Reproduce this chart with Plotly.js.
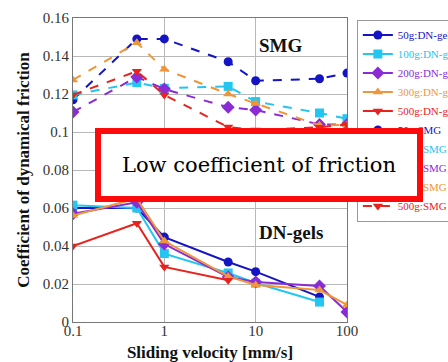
<!DOCTYPE html>
<html><head><meta charset="utf-8">
<script src="https://cdn.plot.ly/plotly-3.0.1.min.js"></script>
<style>html,body{margin:0;padding:0;background:#fff}#chart{width:448px;height:362px}</style>
</head><body><div id="chart"></div>
<script>
// Sliding velocity [mm/s]
const velocity = [0.1, 0.5, 1, 5, 10, 50, 100];

// DN-gels (solid lines)
const dn50  = [0.060, 0.060, 0.0447, 0.0316, 0.0265, 0.0132];
const dn100 = [0.0615, 0.060, 0.036, 0.0258, 0.0205, 0.0105];
const dn200 = [0.057, 0.063, 0.041, 0.0237, 0.021, 0.019, 0.0053];
const dn300 = [0.056, 0.065, 0.0426, 0.024, 0.0195, 0.0168, 0.009];
const dn500 = [0.040, 0.052, 0.029, 0.022];

// SMG (dashed lines)
const smg50  = [0.117, 0.149, 0.149, 0.137, 0.127, 0.128, 0.131];
const smg100 = [0.1195, 0.126, 0.123, 0.124, 0.116, 0.110, 0.107];
const smg200 = [0.1105, 0.129, 0.1226, 0.113, 0.1116, 0.104, 0.104];
const smg300 = [0.1274, 0.147, 0.133, 0.120, 0.115, 0.1035, 0.1037];
const smg500 = [0.1195, 0.132, 0.1195, 0.1026, 0.101, 0.1025, 0.104];

const seriesNames = ['50g:DN-gels','100g:DN-gels','200g:DN-gels','300g:DN-gels','500g:DN-gels',
                     '50g:SMG','100g:SMG','200g:SMG','300g:SMG','500g:SMG'];
const seriesValues = [dn50, dn100, dn200, dn300, dn500, smg50, smg100, smg200, smg300, smg500];
const seriesColors = ['#1414c4','#22c6f0','#8a2bd6','#f0963a','#e8231e',
                      '#1414c4','#22c6f0','#8a2bd6','#f0963a','#e8231e'];
const seriesSymbols = ['circle','square','diamond','triangle-up','triangle-down',
                       'circle','square','diamond','triangle-up','triangle-down'];
const seriesDash = ['solid','solid','solid','solid','solid','dash','dash','dash','dash','dash'];

const tickVals = [0.1, 1, 10, 100];
const tickText = ['0.1', '1', '10', '100'];

const serif = 'Liberation Serif';

const traces = seriesValues.map((vals, i) => ({
  type: 'scatter', mode: 'lines+markers',
  x: velocity.slice(0, vals.length), y: vals,
  name: '<span style="color:' + seriesColors[i] + '">' + seriesNames[i] + '</span>',
  line: {color: seriesColors[i], width: 2, dash: seriesDash[i]},
  marker: {color: seriesColors[i], symbol: seriesSymbols[i], size: seriesSymbols[i]==='diamond' ? 10 : 9}
}));

const layout = {
  width: 448, height: 362,
  margin: {l: 73, r: 101, t: 18, b: 40, autoexpand: false},
  paper_bgcolor: '#fff', plot_bgcolor: '#fff',
  font: {family: serif},
  showlegend: true,
  legend: {x: 1.036, xanchor: 'left', y: 0.995, yanchor: 'top',
           bgcolor: '#fff', bordercolor: '#999', borderwidth: 1,
           font: {family: serif, size: 11, color: '#333'}},
  xaxis: {type: 'log', range: [-1, 2], tickvals: tickVals, ticktext: tickText,
          showgrid: true, gridcolor: '#b8b8b8', gridwidth: 1,
          showline: true, linecolor: '#777', mirror: true, ticks: '', zeroline: false,
          ticklabelstandoff: -5,
          tickfont: {family: serif, size: 15, color: '#333'},
          title: {text: '<b>Sliding velocity [mm/s]</b>', font: {family: serif, size: 17, color: '#111'}, standoff: 10}},
  yaxis: {range: [0, 0.16], dtick: 0.02, showgrid: true, gridcolor: '#b8b8b8', gridwidth: 1,
          showline: true, linecolor: '#777', mirror: true, ticks: '', zeroline: false,
          tickfont: {family: serif, size: 15, color: '#333'},
          title: {text: '<b>Coefficient of dynamical friction</b>', font: {family: serif, size: 17, color: '#111'}, standoff: 8}},
  annotations: [
    {xref: 'paper', yref: 'paper', x: 0.759, y: 0.911, xanchor: 'center', yanchor: 'middle', showarrow: false,
     text: '<b>SMG</b>', font: {family: serif, size: 19, color: '#111'}},
    {xref: 'paper', yref: 'paper', x: 0.796, y: 0.293, xanchor: 'center', yanchor: 'middle', showarrow: false,
     text: '<b>DN-gels</b>', font: {family: serif, size: 19, color: '#111'}},
    {xref: 'paper', yref: 'paper', x: 0.679, y: 0.516, xanchor: 'center', yanchor: 'middle', showarrow: false,
     text: 'Low coefficient of friction', font: {family: 'DejaVu Serif', size: 21, color: '#000'},
     width: 316, height: 62, bgcolor: '#fff', bordercolor: '#ff0a0a', borderwidth: 6, borderpad: 0}
  ]
};

Plotly.newPlot('chart', traces, layout, {displayModeBar: false, staticPlot: true});
</script></body></html>
